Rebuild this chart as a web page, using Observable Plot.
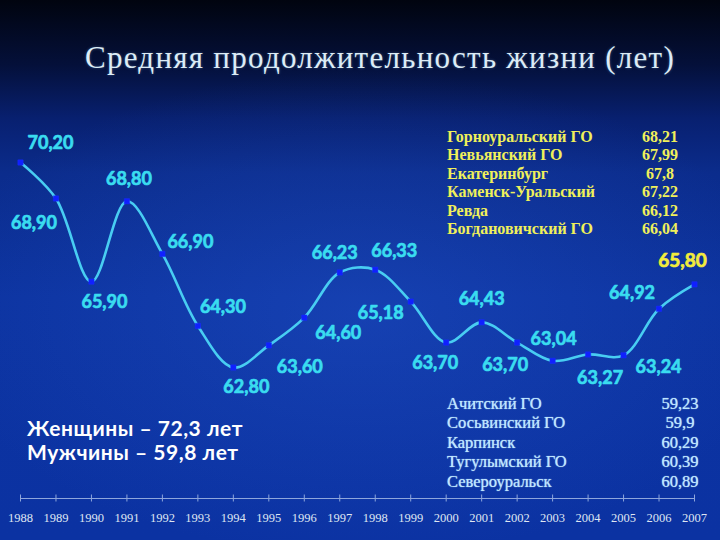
<!DOCTYPE html>
<html><head><meta charset="utf-8">
<script src="https://cdn.jsdelivr.net/npm/d3@7"></script>
<script src="https://cdn.jsdelivr.net/npm/@observablehq/plot@0.6"></script>
<style>
html,body{margin:0;padding:0;background:#0a2a8a;}
#page{position:relative;width:720px;height:540px;overflow:hidden;
 background:
  radial-gradient(ellipse 60% 45% at 50% 58%, rgba(40,90,210,0.35), rgba(40,90,210,0) 100%),
  linear-gradient(to bottom, #01040f 0%, #04103a 12%, #082070 22%, #0b2c8c 32%, #0c33a0 55%, #0b32a2 100%);}
#title{position:absolute;left:0;top:0;width:720px;height:100px;box-sizing:border-box;padding-left:40px;padding-top:38px;
 text-align:center;line-height:40px;font-family:"Liberation Serif",serif;font-size:31px;color:#dcecf6;white-space:nowrap;
 text-shadow:0 0 3px rgba(160,210,255,0.35);}
#chart{position:absolute;left:0;top:100px;}
.tbl{position:absolute;font-family:"Liberation Serif",serif;white-space:nowrap;}
.tbl .row{position:relative;height:var(--rh);line-height:var(--rh);}
.tbl .val{position:absolute;top:0;width:70px;text-align:center;}
#topTable{left:447px;top:128px;--rh:18.4px;font-size:16px;font-weight:bold;color:#f0f05a;}
#topTable .val{left:178px;}
#bottomTable{left:447px;top:394px;--rh:19.4px;font-size:16.5px;color:#bfe6ff;text-shadow:0 0 1px #bfe6ff;}
#bottomTable .val{left:198px;}
#gender{position:absolute;left:27px;top:416px;font-family:Lato,"Open Sans",sans-serif;font-weight:bold;font-size:21px;line-height:24px;color:#ffffff;white-space:nowrap;}
#gender div{display:block;width:max-content;}
</style></head><body>
<div id="page">
 <div id="title"><span id="titleText">Средняя продолжительность жизни (лет)</span></div>
 <div id="chart"></div>
 <div id="topTable" class="tbl"></div>
 <div id="bottomTable" class="tbl"></div>
 <div id="gender"></div>
</div>
<script>
const years = [1988,1989,1990,1991,1992,1993,1994,1995,1996,1997,1998,1999,2000,2001,2002,2003,2004,2005,2006,2007];
const lifeExpectancy = [70.20,68.90,65.90,68.80,66.90,64.30,62.80,63.60,64.60,66.23,66.33,65.18,63.70,64.43,63.70,63.04,63.27,63.24,64.92,65.80];
const topRegions = ["Горноуральский ГО","Невьянский ГО","Екатеринбург","Каменск-Уральский","Ревда","Богдановичский ГО"];
const topValues = [68.21,67.99,67.8,67.22,66.12,66.04];
const bottomRegions = ["Ачитский ГО","Сосьвинский ГО","Карпинск","Тугулымский ГО","Североуральск"];
const bottomValues = [59.23,59.9,60.29,60.39,60.89];
const genderLabels = ["Женщины","Мужчины"];
const genderValues = [72.3,59.8];

// label placement (layout only): [dx, dy] per point
const labelOffsets = [[30,-19],[-22,25],[13,21],[2,-22],[28,-12],[25,-19],[13,20],[31,22],[34,16],[-5,-19],
                      [19,-18],[-30,12],[-11,21],[0,-23],[-12,23],[1,-22],[12,24],[35,12],[-27,-16],[-12,-23]];

const comma = v => String(v).replace(".", ",");
const fmt2 = v => v.toFixed(2).replace(".", ",");
const data = years.map((year, i) => ({year, value: lifeExpectancy[i]}));
const last = data.length - 1;

const axisColor = "#8ea6dc";
const labelMarks = data.map((d, i) => {
  const c = i === last ? "#f2ec3c" : "#3adcf0";
  return Plot.text([d], {
    x: "year", y: "value", text: r => fmt2(r.value),
    dx: labelOffsets[i][0], dy: labelOffsets[i][1],
    fill: c, stroke: c, strokeWidth: 0.7,
    fontFamily: "Lato, 'Open Sans', sans-serif", fontWeight: "bold",
    fontSize: i === last ? 19 : 18
  });
});

const chart = Plot.plot({
  width: 720, height: 440,
  marginLeft: 20, marginRight: 26, marginTop: 20, marginBottom: 42,
  style: {background: "transparent", overflow: "visible"},
  x: {domain: [1988, 2007], label: null},
  y: {domain: [62.8, 70.2], range: [267, 62], axis: null},
  marks: [
    Plot.frame({anchor: "bottom", stroke: axisColor, strokeWidth: 1}),
    Plot.axisX({ticks: years, tickSize: 7, dy: -3.5, tickFormat: () => "", stroke: axisColor, label: null}),
    Plot.axisX({ticks: years, tickSize: 0, tickPadding: 15, tickFormat: d => String(d), label: null,
      fontFamily: "'Liberation Serif', serif", fontSize: 12.5, fill: "#dfe6f2"}),
    Plot.line(data, {x: "year", y: "value", curve: "catmull-rom", stroke: "#48cdf2", strokeWidth: 2.6}),
    Plot.dot(data, {x: "year", y: "value", symbol: "square", r: 3, fill: "#1020ff", stroke: "#1a2cff", strokeWidth: 0.5}),
    ...labelMarks
  ]
});
document.getElementById("chart").appendChild(chart);

function fillTable(id, names, values) {
  const el = document.getElementById(id);
  names.forEach((n, i) => {
    const row = document.createElement("div");
    row.className = "row";
    const nm = document.createElement("span"); nm.textContent = n;
    const v = document.createElement("span"); v.className = "val"; v.textContent = comma(values[i]);
    row.appendChild(nm); row.appendChild(v);
    el.appendChild(row);
  });
}
fillTable("topTable", topRegions, topValues);
fillTable("bottomTable", bottomRegions, bottomValues);

const g = document.getElementById("gender");
genderLabels.forEach((l, i) => {
  const div = document.createElement("div");
  div.textContent = l + " – " + comma(genderValues[i]) + " лет";
  g.appendChild(div);
});
// fit first gender line to reference width, same spacing for both
const g0 = g.firstChild;
const gw = g0.getBoundingClientRect().width;
const gls = (216 - gw) / g0.textContent.length;
g.style.letterSpacing = gls + "px";

// fit title to its width in the reference
const tt = document.getElementById("titleText");
const w = tt.getBoundingClientRect().width;
tt.style.letterSpacing = ((590 - w) / tt.textContent.length) + "px";
</script>
</body></html>
